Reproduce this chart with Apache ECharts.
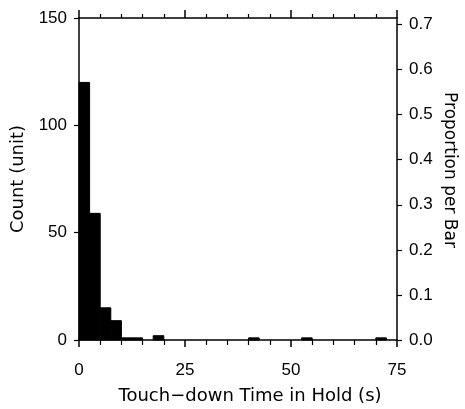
<!DOCTYPE html>
<html>
  <head>
    <meta charset="utf-8">
    <script src="https://cdn.jsdelivr.net/npm/echarts@6/dist/echarts.min.js"></script>
    <style>
      body { margin: 0; background: #fff; }
    </style>
  </head>
  <body>
    <div id="chart" style="width:465px;height:409px;"></div>
    <script>
      // histogram bins (left edge, seconds) and counts
      var binWidth = 2.5;
      var binStart = [0, 2.5, 5, 7.5, 10, 12.5, 17.5, 40, 52.5, 70];
      var counts = [120, 59, 15, 9, 1, 1, 2, 1, 1, 1];
      var xTicks = [0, 25, 50, 75];
      var countTicks = [0, 50, 100, 150];
      var propTicks = [0, 0.1, 0.2, 0.3, 0.4, 0.5, 0.6, 0.7];

      var total = counts.reduce(function (a, b) { return a + b; }, 0);
      var numFont = 'Liberation Sans';
      var titleFont = 'DejaVu Sans';
      var black = '#000';

      var data = binStart.map(function (s, i) { return [s, s + binWidth, counts[i]]; });

      var chart = echarts.init(document.getElementById('chart'));
      chart.setOption({
        animation: false,
        grid: { left: 79, right: 68, top: 18, bottom: 69 },
        xAxis: [{
          type: 'value', min: 0, max: 75, interval: 25,
          axisLine: { onZero: false, lineStyle: { color: black, width: 1.5 } },
          axisTick: { length: 7, lineStyle: { color: black, width: 1.5 } },
          minorTick: { show: true, splitNumber: 5, length: 5, lineStyle: { color: black, width: 1.2 } },
          axisLabel: { fontFamily: numFont, fontSize: 17, color: black, margin: 22,
            formatter: function (v) { return xTicks.indexOf(v) >= 0 ? v : ''; } },
          splitLine: { show: false }
        }, {
          type: 'value', position: 'top', min: 0, max: 75, interval: 25,
          axisLine: { show: true, onZero: false, lineStyle: { color: black, width: 1.5 } },
          axisTick: { show: true, length: 8, lineStyle: { color: black, width: 1.5 } },
          minorTick: { show: true, splitNumber: 5, length: 4, lineStyle: { color: black, width: 1.2 } },
          axisLabel: { show: false },
          splitLine: { show: false }
        }],
        yAxis: [{
          type: 'value', min: 0, max: 150, interval: 50,
          name: 'Count (unit)', nameLocation: 'middle', nameGap: 48,
          nameTextStyle: { fontFamily: titleFont, fontSize: 18, color: black },
          axisLine: { show: true, onZero: false, lineStyle: { color: black, width: 1.5 } },
          axisTick: { show: true, length: 5, lineStyle: { color: black, width: 1.2 } },
          axisLabel: { fontFamily: numFont, fontSize: 17, color: black, margin: 12,
            formatter: function (v) { return countTicks.indexOf(v) >= 0 ? v : ''; } },
          splitLine: { show: false }
        }, {
          type: 'value', position: 'right', min: 0, max: 150 / total, interval: 0.1,
          axisLine: { show: true, onZero: false, lineStyle: { color: black, width: 1.5 } },
          axisTick: { show: true, length: 5, lineStyle: { color: black, width: 1.2 } },
          axisLabel: { fontFamily: numFont, fontSize: 17, color: black, margin: 12,
            formatter: function (v) {
              var r = Math.round(v * 10) / 10;
              return propTicks.indexOf(r) >= 0 ? r.toFixed(1) : '';
            } },
          splitLine: { show: false }
        }],
        graphic: [{
          type: 'text', x: 449, y: 170, rotation: -Math.PI / 2,
          style: { text: 'Proportion per Bar', font: '17px "' + titleFont + '"', fill: black,
            align: 'center', verticalAlign: 'middle' }
        }, {
          type: 'text', x: 250, y: 396,
          style: { text: 'Touch−down Time in Hold (s)', font: '18px "' + titleFont + '"', fill: black,
            align: 'center', verticalAlign: 'middle' }
        }],
        series: [{
          type: 'custom',
          xAxisIndex: 0, yAxisIndex: 0,
          data: data,
          renderItem: function (params, api) {
            var p0 = api.coord([api.value(0), api.value(2)]);
            var p1 = api.coord([api.value(1), 0]);
            return {
              type: 'rect',
              shape: { x: p0[0], y: p0[1], width: p1[0] - p0[0], height: p1[1] - p0[1] },
              style: { fill: black, stroke: black, lineWidth: 1 }
            };
          }
        }]
      });
    </script>
  </body>
</html>
